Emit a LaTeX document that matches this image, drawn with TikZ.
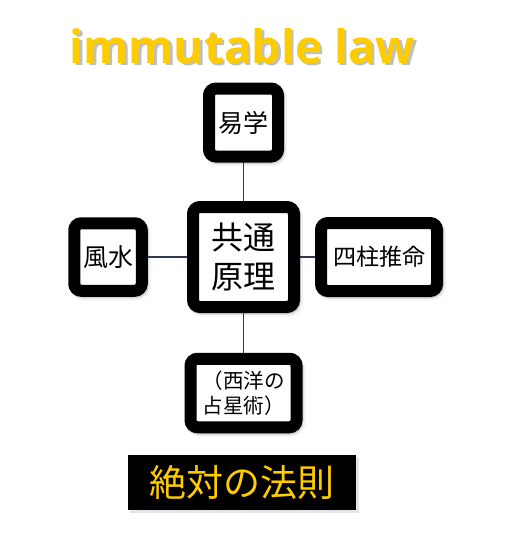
\documentclass[tikz,border=0pt]{standalone}
\usepackage{fontspec}
\newfontfamily\cjk{Noto Sans CJK JP}
\newfontfamily\titlefont{Open Sans}
\usetikzlibrary{backgrounds}
\definecolor{gold}{RGB}{255,204,0}
\definecolor{linec}{RGB}{46,59,78}
\tikzset{
  box/.style={draw=black, fill=white, line width=12pt, rounded corners=7pt, inner sep=0pt, outer sep=0pt, align=center, font=\cjk},
  conn/.style={draw=linec, line width=1.4pt},
  shadeA/.style={draw=black, opacity=0.05, line width=14pt, rounded corners=8pt},
  shadeB/.style={draw=black, opacity=0.12, line width=12pt, rounded corners=7pt},
  titlestyle/.style={font=\titlefont\bfseries\fontsize{46}{52}\selectfont, anchor=base, inner sep=0pt},
}
\begin{document}
\begin{tikzpicture}[x=1pt,y=-1pt]
\useasboundingbox (0,0) rectangle (509,533);
% title
\node[titlestyle, text=black, opacity=0.25] (titleshadow) at (245,65.5) {immutable law};
\node[titlestyle, text=gold] (title) at (242.5,63) {immutable law};
% boxes
\node[box, minimum width=69pt, minimum height=68pt, font=\cjk\fontsize{25}{30}\selectfont] (yi) at (243.5,122.5) {易学};
\node[box, minimum width=101pt, minimum height=100pt, font=\cjk\fontsize{32}{38.5}\selectfont] (core) at (243.5,257) {共通\\原理};
\node[box, minimum width=67.5pt, minimum height=67.5pt, font=\cjk\fontsize{25}{30}\selectfont] (fs) at (108,257) {風水};
\node[box, minimum width=116pt, minimum height=68pt, font=\cjk\fontsize{23}{28}\selectfont] (sc) at (379,257) {四柱推命};
\node[box, minimum width=106pt, minimum height=68.5pt, font=\cjk\fontsize{20.5}{25}\selectfont] (astro) at (243.5,393) {（西洋の\\占星術）};
% banner
\node[fill=black, minimum width=228pt, minimum height=55pt, inner sep=0pt, outer sep=0pt, text=gold, font=\cjk\fontsize{37}{42}\selectfont] (law) at (242,482.5) {絶対の法則};
\begin{pgfonlayer}{background}
  \foreach \n in {yi,core,fs,sc,astro}{
    \draw[shadeA] ([shift={(2,2.5)}]\n.north west) rectangle ([shift={(2,2.5)}]\n.south east);
    \draw[shadeB] ([shift={(1,1.5)}]\n.north west) rectangle ([shift={(1,1.5)}]\n.south east);
  }
  \fill[black, opacity=0.1] ([shift={(1.5,1.5)}]law.north west) rectangle ([shift={(2.5,2.5)}]law.south east);
  \draw[conn] (yi) -- (core);
  \draw[conn] (fs) -- (core);
  \draw[conn] (sc) -- (core);
  \draw[conn] (astro) -- (core);
\end{pgfonlayer}
\end{tikzpicture}
\end{document}
